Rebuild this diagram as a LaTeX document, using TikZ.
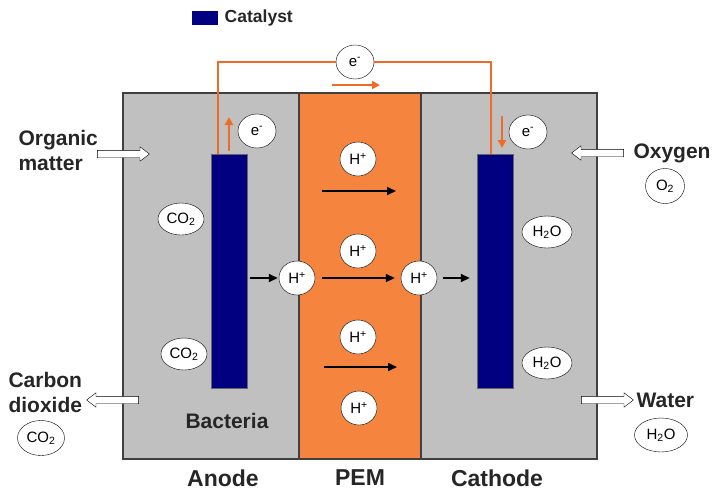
\documentclass[tikz,border=0pt]{standalone}
\usepackage{fontspec}
\setmainfont{Liberation Sans}
\usetikzlibrary{arrows.meta,positioning,shapes.geometric,shapes.arrows}
\definecolor{cellgray}{HTML}{C0C0C0}
\definecolor{pemorange}{HTML}{F5843F}
\definecolor{wireorange}{HTML}{EF6B26}
\definecolor{navy}{HTML}{000080}

\begin{document}
\begin{tikzpicture}[x=1pt,y=-1pt,>=Stealth,
  part/.style={draw=black!75,line width=1.2pt,inner sep=0pt,minimum height=366pt},
  ion/.style={draw,ellipse,fill=white,inner sep=0pt,minimum width=38pt,minimum height=34pt,font=\fontsize{15}{15}\selectfont},
  mol/.style={draw,ellipse,fill=white,inner sep=0pt,minimum width=46pt,minimum height=32pt,font=\fontsize{15}{15}\selectfont},
  lbl/.style={font=\fontsize{21}{25}\selectfont\bfseries,text=black!85},
  biglbl/.style={font=\fontsize{23}{25}\selectfont\bfseries,text=black!85,inner sep=0.5pt},
  elec/.style={draw=black!60,fill=navy,minimum width=36pt,minimum height=234pt,inner sep=0pt},
  wire/.style={draw=wireorange,line width=2pt},
  flow/.style={single arrow,draw,fill=white,inner sep=3.5pt,minimum height=52pt,minimum width=14pt,
    single arrow head extend=3.5pt,single arrow tip angle=75},
  hmove/.style={line width=1.6pt,-{Triangle[length=9pt,width=8pt]}},
  emove/.style={wireorange,line width=2pt,-{Triangle[length=8pt,width=8pt]}}]
\useasboundingbox (0,0) rectangle (712,490);
% cell: anode | PEM | cathode
\node[part,fill=cellgray,minimum width=176pt] (anode) at (211,276) {};
\node[part,fill=cellgray,minimum width=176pt] (cathode) at (509,276) {};
\node[part,fill=pemorange,minimum width=122pt] (pem) at (360,276) {};
\node[elec] (an) at (229,271) {};
\node[elec] (ca) at (495,271) {};
% legend
\node[fill=navy,minimum width=26pt,minimum height=14pt,inner sep=0pt] (key) at (205,18) {};
\node[right=3pt of key,font=\fontsize{17.5}{17.5}\selectfont\bfseries,text=black!85] (keytxt) {Catalyst};
% outer circuit
\node[ion] (ew) at (355,62) {e\textsuperscript{-}};
\draw[wire] ([xshift=7]an.north west) |- (ew.west);
\draw[wire] (ew.east) -| ([xshift=14]ca.north west);
\coordinate (w1) at (332,85); \coordinate (w2) at (380,85);
\draw[emove] (w1) -- (w2);
\node[ion] (ea) at (257,131) {e\textsuperscript{-}};
\node[ion] (ec) at (528,132) {e\textsuperscript{-}};
\coordinate (ua) at (229,151); \coordinate (ub) at (229,117);
\draw[emove] (ua) -- (ub);
\coordinate (da) at (502,116); \coordinate (db) at (502,148);
\draw[emove] (da) -- (db);
% protons
\node[ion,minimum width=36pt] (hl) at (297,278) {H\textsuperscript{+}};
\node[ion,minimum width=36pt] (hr) at (419,278) {H\textsuperscript{+}};
\node[ion,minimum width=36pt] (h1) at (358,159) {H\textsuperscript{+}};
\node[ion,minimum width=36pt] (h2) at (358,251) {H\textsuperscript{+}};
\node[ion,minimum width=36pt] (h3) at (358,337) {H\textsuperscript{+}};
\node[ion,minimum width=36pt] (h4) at (359,408) {H\textsuperscript{+}};
\coordinate (p1) at (322,191); \coordinate (q1) at (396,191);
\coordinate (p3) at (324,367); \coordinate (q3) at (397,367);
\draw[hmove] (p1) -- (q1);
\draw[hmove,shorten <=7pt,shorten >=6pt] (hl) -- (hr);
\draw[hmove] (p3) -- (q3);
\draw[hmove,shorten >=1pt] ([xshift=3]an.east |- hl) -- (hl);
\draw[hmove,shorten <=6pt,shorten >=7pt] (hr) -- (ca.west |- hr);
% molecules
\node[mol] (co2a) at (181,219) {CO\textsubscript{2}};
\node[mol] (co2b) at (184,354) {CO\textsubscript{2}};
\node[mol,minimum width=50pt] (h2oa) at (547,232) {H\textsubscript{2}O};
\node[mol,minimum width=50pt] (h2ob) at (547,363) {H\textsubscript{2}O};
% inputs and outputs
\node[flow] (inorg) at (121,154) {};
\node[lbl,align=left,anchor=west] (org) at (15,150) {Organic\\matter};
\node[flow,shape border rotate=180] (inox) at (600,153) {};
\node[lbl,anchor=west] (oxy) at (630,153) {Oxygen};
\node[ion,minimum width=39pt,minimum height=35pt] (o2) at (665,186) {O\textsubscript{2}};
\node[flow,shape border rotate=180] (outco2) at (115,400) {};
\node[lbl,align=left,anchor=west] (cd) at (5,392) {Carbon\\dioxide};
\node[mol,minimum width=47pt,minimum height=35pt] (co2c) at (41,438) {CO\textsubscript{2}};
\node[flow] (outw) at (605,400) {};
\node[lbl,anchor=west] (wat) at (633,400) {Water};
\node[mol,minimum width=53pt,minimum height=34pt] (h2oc) at (661,435) {H\textsubscript{2}O};
% labels
\node[lbl] (bact) at (227,421) {Bacteria};
\node[biglbl] (anlbl) at (223,478) {Anode};
\node[biglbl] (pemlbl) at (360,478) {PEM};
\node[biglbl] (calbl) at (497,478) {Cathode};
\end{tikzpicture}
\end{document}
